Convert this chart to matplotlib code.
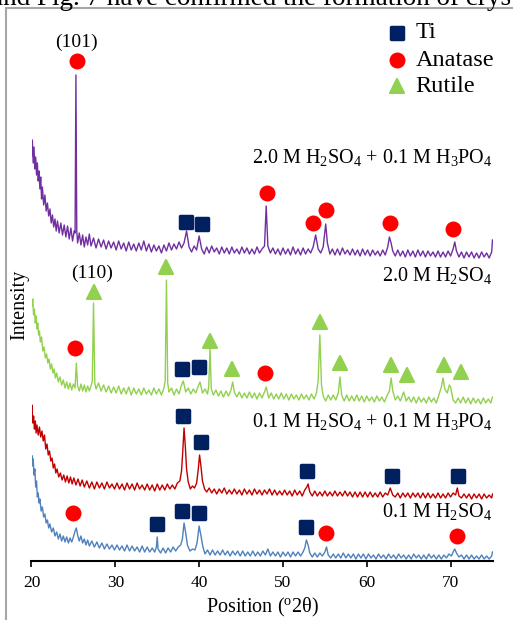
import numpy as np
import matplotlib
matplotlib.use("Agg")
import matplotlib.pyplot as plt
from matplotlib.lines import Line2D
from matplotlib.markers import MarkerStyle

plt.rcParams['font.family'] = ['Liberation Serif', 'DejaVu Serif']
plt.rcParams['mathtext.fontset'] = 'custom'
plt.rcParams['mathtext.rm'] = 'Liberation Serif'
plt.rcParams['mathtext.it'] = 'Liberation Serif:italic'

# XRD patterns (2theta, stacked intensity in a.u.)
purple = [(20.0, 405), (20.1, 421), (20.2, 398), (20.3, 414), (20.4, 392), (20.5, 404), (20.6, 386), (20.7, 398),
          (20.8, 380), (20.9, 390), (21.0, 372), (21.1, 384), (21.2, 362), (21.3, 374), (21.45, 356), (21.6, 366),
          (21.75, 350), (21.9, 358), (22.05, 345), (22.2, 352), (22.35, 338), (22.5, 346), (22.65, 334), (22.8, 342),
          (22.95, 330), (23.1, 340), (23.3, 328), (23.5, 338), (23.7, 326), (23.9, 336), (24.1, 324), (24.3, 335),
          (24.5, 322), (24.7, 333), (24.9, 320), (25.1, 330), (25.2, 328), (25.3, 486), (25.4, 330), (25.5, 318),
          (25.7, 328), (25.9, 316), (26.1, 326), (26.3, 314), (26.5, 324), (26.7, 316), (26.9, 327), (27.1, 315),
          (27.4, 323), (27.7, 313), (28.0, 322), (28.3, 314), (28.6, 321), (28.9, 312), (29.2, 320), (29.5, 313),
          (29.8, 319), (30.1, 311), (30.4, 320), (30.7, 312), (31.0, 318), (31.3, 310), (31.6, 319), (31.9, 311),
          (32.2, 317), (32.5, 310), (32.8, 318), (33.1, 311), (33.4, 320), (33.7, 310), (34.0, 317), (34.3, 309),
          (34.6, 316), (34.9, 310), (35.2, 315), (35.5, 308), (35.8, 316), (36.1, 310), (36.4, 318), (36.7, 311),
          (37.0, 317), (37.3, 312), (37.6, 319), (37.9, 313), (38.2, 318), (38.5, 330), (38.8, 314), (39.1, 309),
          (39.4, 315), (39.7, 311), (40.0, 325), (40.3, 312), (40.6, 307), (40.9, 314), (41.2, 308), (41.5, 315),
          (41.8, 309), (42.1, 313), (42.4, 307), (42.7, 314), (43.0, 308), (43.3, 313), (43.6, 307), (43.9, 314),
          (44.2, 308), (44.5, 312), (44.8, 307), (45.1, 314), (45.4, 308), (45.7, 313), (46.0, 307), (46.3, 312),
          (46.6, 307), (46.9, 314), (47.2, 308), (47.5, 312), (47.8, 315), (48.0, 355), (48.2, 315), (48.5, 308),
          (48.8, 313), (49.1, 307), (49.4, 312), (49.7, 306), (50.0, 313), (50.3, 307), (50.6, 312), (50.9, 306),
          (51.2, 314), (51.5, 307), (51.8, 312), (52.1, 306), (52.4, 313), (52.7, 307), (53.0, 312), (53.3, 308),
          (53.6, 314), (53.9, 326), (54.2, 312), (54.5, 308), (54.8, 314), (55.1, 337), (55.3, 318), (55.6, 307),
          (55.9, 312), (56.2, 306), (56.5, 312), (56.8, 306), (57.1, 313), (57.4, 307), (57.7, 311), (58.0, 306),
          (58.3, 312), (58.6, 306), (58.9, 311), (59.2, 305), (59.5, 312), (59.8, 306), (60.1, 311), (60.4, 305),
          (60.7, 311), (61.0, 306), (61.3, 310), (61.6, 305), (61.9, 311), (62.2, 306), (62.5, 314), (62.7, 324),
          (62.9, 318), (63.1, 310), (63.4, 305), (63.7, 311), (64.0, 305), (64.3, 310), (64.6, 304), (64.9, 311),
          (65.2, 305), (65.5, 310), (65.8, 304), (66.1, 311), (66.4, 305), (66.7, 310), (67.0, 304), (67.3, 310),
          (67.6, 305), (67.9, 309), (68.2, 304), (68.5, 310), (68.8, 304), (69.1, 309), (69.4, 304), (69.7, 310),
          (70.0, 305), (70.3, 312), (70.5, 319), (70.7, 310), (71.0, 304), (71.3, 309), (71.6, 303), (71.9, 309),
          (72.2, 304), (72.5, 309), (72.8, 303), (73.1, 308), (73.4, 303), (73.7, 309), (74.0, 304), (74.3, 308),
          (74.6, 303), (74.9, 309), (75.0, 321)]

green = [(20.05, 255), (20.15, 262), (20.25, 246), (20.35, 252), (20.45, 238), (20.55, 245), (20.65, 232), (20.75, 238),
         (20.85, 226), (20.95, 230), (21.05, 219), (21.2, 224), (21.35, 210), (21.5, 214), (21.65, 203), (21.8, 207),
         (21.95, 198), (22.1, 202), (22.25, 192), (22.4, 197), (22.55, 188), (22.7, 192), (22.85, 183), (23.0, 188),
         (23.2, 179), (23.4, 184), (23.6, 176), (23.8, 181), (24.0, 173), (24.2, 179), (24.4, 172), (24.6, 178),
         (24.8, 171), (25.0, 177), (25.2, 173), (25.35, 198), (25.5, 175), (25.7, 170), (25.9, 177), (26.1, 170),
         (26.3, 176), (26.5, 169), (26.7, 175), (26.9, 170), (27.1, 175), (27.25, 180), (27.4, 258), (27.55, 178),
         (27.7, 172), (28.0, 178), (28.3, 170), (28.6, 176), (28.9, 169), (29.2, 175), (29.5, 168), (29.8, 174),
         (30.1, 168), (30.4, 175), (30.7, 167), (31.0, 173), (31.3, 167), (31.6, 174), (31.9, 166), (32.2, 173),
         (32.5, 167), (32.8, 172), (33.1, 166), (33.4, 173), (33.7, 167), (34.0, 171), (34.3, 166), (34.6, 173),
         (34.9, 167), (35.2, 172), (35.5, 166), (35.8, 173), (35.95, 180), (36.1, 281), (36.25, 178), (36.4, 169),
         (36.7, 173), (37.0, 166), (37.3, 172), (37.6, 167), (37.9, 176), (38.1, 180), (38.4, 169), (38.7, 173),
         (39.0, 167), (39.3, 172), (39.6, 168), (39.9, 175), (40.1, 179), (40.4, 168), (40.7, 172), (41.0, 167),
         (41.15, 175), (41.3, 213), (41.45, 172), (41.7, 166), (42.0, 171), (42.3, 165), (42.6, 170), (42.9, 164),
         (43.2, 170), (43.5, 165), (43.8, 171), (44.0, 179), (44.2, 169), (44.5, 164), (44.8, 169), (45.1, 163),
         (45.4, 168), (45.7, 163), (46.0, 169), (46.3, 163), (46.6, 168), (46.9, 162), (47.2, 168), (47.5, 163),
         (47.8, 169), (48.0, 174), (48.3, 163), (48.6, 168), (48.9, 162), (49.2, 167), (49.5, 162), (49.8, 168),
         (50.1, 162), (50.4, 167), (50.7, 161), (51.0, 167), (51.3, 162), (51.6, 166), (51.9, 161), (52.2, 167),
         (52.5, 162), (52.8, 166), (53.1, 161), (53.4, 167), (53.7, 162), (54.0, 168), (54.2, 180), (54.4, 226),
         (54.6, 176), (54.8, 165), (55.1, 160), (55.4, 166), (55.7, 161), (56.0, 166), (56.3, 161), (56.6, 168),
         (56.8, 184), (57.0, 166), (57.3, 160), (57.6, 166), (57.9, 160), (58.2, 165), (58.5, 160), (58.8, 166),
         (59.1, 160), (59.4, 165), (59.7, 159), (60.0, 165), (60.3, 160), (60.6, 164), (60.9, 159), (61.2, 165),
         (61.5, 160), (61.8, 164), (62.1, 159), (62.4, 165), (62.7, 170), (62.9, 183), (63.1, 170), (63.4, 161),
         (63.7, 165), (64.0, 160), (64.4, 169), (64.7, 160), (65.0, 164), (65.3, 159), (65.6, 164), (65.9, 158),
         (66.2, 164), (66.5, 159), (66.8, 163), (67.1, 158), (67.4, 164), (67.7, 159), (68.0, 163), (68.3, 158),
         (68.6, 166), (68.9, 174), (69.1, 183), (69.3, 172), (69.6, 168), (69.85, 176), (70.0, 174), (70.3, 161),
         (70.6, 158), (70.9, 163), (71.2, 158), (71.5, 164), (71.8, 158), (72.1, 163), (72.4, 157), (72.7, 163),
         (73.0, 158), (73.3, 162), (73.6, 157), (73.9, 163), (74.2, 158), (74.5, 162), (74.8, 158), (75.0, 164)]

red = [(20.0, 148), (20.05, 156), (20.15, 138), (20.25, 145), (20.35, 132), (20.45, 140), (20.55, 128), (20.65, 136),
       (20.8, 126), (20.95, 134), (21.1, 124), (21.25, 130), (21.4, 120), (21.55, 126), (21.7, 112), (21.85, 117),
       (22.0, 106), (22.15, 110), (22.3, 100), (22.45, 103), (22.6, 93), (22.75, 97), (22.9, 88), (23.05, 92),
       (23.25, 84), (23.45, 88), (23.65, 81), (23.85, 86), (24.05, 79), (24.25, 85), (24.45, 78), (24.65, 84),
       (24.85, 77), (25.05, 83), (25.3, 76), (25.55, 82), (25.8, 75), (26.05, 81), (26.3, 74), (26.6, 80),
       (26.9, 73), (27.2, 79), (27.5, 72), (27.8, 79), (28.1, 73), (28.4, 78), (28.7, 72), (29.0, 79),
       (29.3, 73), (29.6, 77), (29.9, 72), (30.2, 78), (30.5, 72), (30.8, 77), (31.1, 71), (31.4, 78),
       (31.7, 72), (32.0, 77), (32.3, 71), (32.6, 78), (32.9, 72), (33.2, 76), (33.5, 71), (33.8, 77),
       (34.1, 71), (34.4, 76), (34.7, 70), (35.0, 77), (35.3, 71), (35.6, 76), (35.9, 71), (36.2, 77),
       (36.5, 72), (36.8, 76), (37.1, 72), (37.4, 78), (37.7, 80), (37.9, 90), (38.05, 110), (38.2, 133),
       (38.35, 115), (38.5, 92), (38.7, 79), (38.95, 72), (39.2, 75), (39.45, 73), (39.7, 78), (39.9, 92),
       (40.05, 106), (40.2, 96), (40.4, 80), (40.65, 72), (40.9, 69), (41.2, 73), (41.5, 68), (41.8, 72),
       (42.1, 67), (42.4, 72), (42.7, 68), (43.0, 73), (43.3, 67), (43.6, 71), (43.9, 67), (44.2, 72),
       (44.5, 67), (44.8, 71), (45.1, 66), (45.4, 72), (45.7, 67), (46.0, 71), (46.3, 66), (46.6, 72),
       (46.9, 67), (47.2, 71), (47.5, 66), (47.8, 71), (48.1, 67), (48.4, 72), (48.7, 66), (49.0, 71),
       (49.3, 66), (49.6, 70), (49.9, 66), (50.2, 71), (50.5, 66), (50.8, 70), (51.1, 65), (51.4, 71),
       (51.7, 66), (52.0, 70), (52.3, 65), (52.6, 71), (52.85, 74), (53.0, 77), (53.2, 69), (53.5, 65),
       (53.8, 70), (54.1, 65), (54.4, 69), (54.7, 65), (55.0, 70), (55.3, 65), (55.6, 69), (55.9, 65),
       (56.2, 70), (56.5, 65), (56.8, 69), (57.1, 65), (57.4, 70), (57.7, 65), (58.0, 69), (58.3, 64),
       (58.6, 69), (58.9, 64), (59.2, 69), (59.5, 64), (59.8, 69), (60.1, 64), (60.4, 69), (60.7, 64),
       (61.0, 68), (61.3, 64), (61.6, 69), (61.9, 64), (62.2, 68), (62.5, 66), (62.8, 73), (63.1, 66),
       (63.4, 64), (63.7, 68), (64.0, 63), (64.3, 68), (64.6, 64), (64.9, 68), (65.2, 63), (65.5, 68),
       (65.8, 64), (66.1, 68), (66.4, 63), (66.7, 68), (67.0, 63), (67.3, 68), (67.6, 63), (67.9, 67),
       (68.2, 63), (68.5, 68), (68.8, 63), (69.1, 67), (69.4, 63), (69.7, 68), (70.0, 64), (70.3, 68),
       (70.6, 66), (70.8, 73), (71.0, 65), (71.3, 63), (71.6, 67), (71.9, 63), (72.2, 67), (72.5, 62),
       (72.8, 67), (73.1, 63), (73.4, 67), (73.7, 62), (74.0, 67), (74.3, 63), (74.6, 66), (74.9, 63),
       (75.0, 67)]

blue = [(20.1, 105), (20.15, 95), (20.2, 102), (20.3, 86), (20.4, 92), (20.5, 74), (20.6, 80), (20.7, 64),
        (20.8, 68), (20.9, 58), (21.0, 62), (21.15, 50), (21.3, 54), (21.45, 44), (21.6, 47), (21.75, 38),
        (21.9, 41), (22.05, 33), (22.2, 37), (22.4, 29), (22.6, 33), (22.8, 25), (23.0, 29), (23.2, 22),
        (23.4, 27), (23.6, 20), (23.8, 25), (24.0, 19), (24.2, 24), (24.4, 18), (24.6, 23), (24.8, 19),
        (25.0, 24), (25.2, 30), (25.35, 33), (25.5, 26), (25.7, 20), (25.9, 25), (26.1, 18), (26.3, 22),
        (26.5, 16), (26.7, 21), (26.9, 15), (27.2, 20), (27.5, 14), (27.8, 19), (28.1, 13), (28.4, 18),
        (28.7, 12), (29.0, 17), (29.3, 12), (29.6, 16), (29.9, 11), (30.2, 16), (30.5, 11), (30.8, 15),
        (31.1, 10), (31.4, 16), (31.7, 10), (32.0, 15), (32.3, 10), (32.6, 14), (32.9, 9), (33.2, 15),
        (33.5, 9), (33.8, 14), (34.1, 9), (34.4, 13), (34.7, 9), (34.9, 14), (35.0, 24), (35.1, 12),
        (35.4, 8), (35.7, 13), (36.0, 8), (36.3, 13), (36.6, 9), (36.9, 14), (37.2, 10), (37.5, 14),
        (37.8, 16), (38.0, 22), (38.2, 38), (38.4, 28), (38.6, 16), (38.9, 10), (39.2, 12), (39.5, 11),
        (39.75, 18), (40.0, 35), (40.2, 26), (40.45, 14), (40.7, 7), (41.0, 11), (41.3, 6), (41.6, 11),
        (41.9, 6), (42.2, 10), (42.5, 6), (42.8, 11), (43.1, 6), (43.4, 10), (43.7, 5), (44.0, 10),
        (44.3, 6), (44.6, 10), (44.9, 5), (45.2, 10), (45.5, 5), (45.8, 9), (46.1, 5), (46.4, 10),
        (46.7, 5), (47.0, 9), (47.3, 5), (47.6, 10), (47.9, 6), (48.2, 12), (48.5, 5), (48.8, 9),
        (49.1, 5), (49.4, 9), (49.7, 4), (50.0, 9), (50.3, 5), (50.6, 9), (50.9, 4), (51.2, 9),
        (51.5, 5), (51.8, 9), (52.1, 5), (52.4, 9), (52.6, 13), (52.8, 21), (53.0, 16), (53.2, 8),
        (53.5, 4), (53.8, 8), (54.1, 4), (54.4, 8), (54.7, 5), (55.0, 9), (55.2, 14), (55.4, 6),
        (55.7, 3), (56.0, 7), (56.3, 3), (56.6, 7), (56.9, 3), (57.2, 8), (57.5, 3), (57.8, 7),
        (58.1, 3), (58.4, 7), (58.7, 2), (59.0, 7), (59.3, 3), (59.6, 7), (59.9, 2), (60.2, 7),
        (60.5, 3), (60.8, 6), (61.1, 2), (61.4, 7), (61.7, 3), (62.0, 6), (62.3, 2), (62.6, 7),
        (62.9, 3), (63.2, 6), (63.5, 2), (63.8, 7), (64.1, 3), (64.4, 6), (64.7, 2), (65.0, 6),
        (65.3, 2), (65.6, 7), (65.9, 3), (66.2, 6), (66.5, 2), (66.8, 6), (67.1, 2), (67.4, 7),
        (67.7, 3), (68.0, 6), (68.3, 2), (68.6, 6), (68.9, 2), (69.2, 6), (69.5, 3), (69.8, 7),
        (70.1, 5), (70.3, 9), (70.5, 12), (70.7, 8), (71.0, 4), (71.3, 6), (71.6, 2), (71.9, 6),
        (72.2, 2), (72.5, 6), (72.8, 2), (73.1, 5), (73.4, 2), (73.7, 6), (74.0, 2), (74.3, 5),
        (74.6, 2), (74.9, 5), (75.0, 9)]

# phase markers (2theta, height)
ti_marks = [(38.4, 339), (40.3, 337),
            (38.0, 192), (40.0, 194),
            (38.1, 145), (40.2, 119), (52.9, 90), (63.0, 85), (70.9, 85),
            (35.0, 37), (38.0, 50), (40.0, 48), (52.8, 34)]
anatase_marks = [(25.4, 500), (48.1, 368), (53.6, 338), (55.1, 351), (62.8, 338), (70.3, 332),
                 (25.2, 213), (47.9, 188),
                 (24.9, 48), (55.1, 28), (70.8, 25)]
rutile_marks = [(27.4, 269), (36.1, 294), (41.3, 220), (43.9, 192), (54.4, 239), (56.8, 198),
                (62.9, 196), (64.8, 186), (69.2, 196), (71.2, 189)]

sample_labels = [r'2.0 M H$_2$SO$_4$ + 0.1 M H$_3$PO$_4$', r'2.0 M H$_2$SO$_4$',
                 r'0.1 M H$_2$SO$_4$ + 0.1 M H$_3$PO$_4$', r'0.1 M H$_2$SO$_4$']
label_heights = [403, 286, 139, 49]
line_colors = ['#7030A0', '#92D050', '#C00000', '#4F81BD']

TI_C, AN_C, RU_C = '#002060', '#FF0000', '#92D050'
SQ = MarkerStyle('s', joinstyle='round')
TRI = MarkerStyle('^', joinstyle='round')
phase_style = {
    'Ti': dict(marker=SQ, ms=8.5, mew=2.5, color=TI_C, mec=TI_C),
    'Anatase': dict(marker='o', ms=11.5, mew=0, color=AN_C),
    'Rutile': dict(marker=TRI, ms=10, mew=1.5, color=RU_C, mec=RU_C),
}

fig = plt.figure(figsize=(5.13, 6.2), dpi=100)
ax = fig.add_axes([31.5 / 513, 59 / 620, 461 / 513, 553 / 620])

for data, c in zip([purple, green, red, blue], line_colors):
    arr = np.array(data)
    ax.plot(arr[:, 0], arr[:, 1], color=c, lw=1.0)

for name, marks in [('Ti', ti_marks), ('Anatase', anatase_marks), ('Rutile', rutile_marks)]:
    arr = np.array(marks)
    ax.plot(arr[:, 0], arr[:, 1], ls='none', clip_on=False, **phase_style[name])

for lab, h in zip(sample_labels, label_heights):
    ax.text(75, h, lab, ha='right', va='center', fontsize=14.5)

ax.text(25.4, 519, '(101)', ha='center', va='center', fontsize=14)
ax.text(27.2, 288, '(110)', ha='center', va='center', fontsize=14)

# legend drawn by hand
for name, h in [('Ti', 528), ('Anatase', 501), ('Rutile', 475)]:
    ax.plot([63.6], [h], ls='none', clip_on=False, **phase_style[name])
    ax.text(65.8, h, name, ha='left', va='center', fontsize=17.5)

ax.set_xlim(20, 75)
ax.set_ylim(0, 553)
ax.set_xticks([20, 30, 40, 50, 60, 70])
ax.set_yticks([])
for s in ['top', 'right', 'left']:
    ax.spines[s].set_visible(False)
ax.spines['bottom'].set_linewidth(1.5)
ax.tick_params(axis='x', direction='out', length=4, width=1.2, labelsize=12.5, pad=6)
ax.set_xlabel(r'Position ($^{\mathrm{o}}$2θ)', fontsize=14.5, labelpad=4)
ax.set_ylabel('Intensity', fontsize=14.5)
ax.yaxis.set_label_coords(-0.004, (561 - 305) / 553)
ax.patch.set_visible(False)

# page frame and clipped caption text above it
fig.add_artist(Line2D([6 / 513, 6 / 513], [0, 1 - 8 / 620], color='#A6A6A6', lw=1.5))
fig.add_artist(Line2D([6 / 513, 1], [1 - 8 / 620, 1 - 8 / 620], color='#A6A6A6', lw=1.5))
fig.text(-0.018, 1 - 5 / 620, 'and Fig. 7 have confirmed the formation of crys', fontsize=19.5, va='baseline')

fig.savefig('out.png', dpi=100)
